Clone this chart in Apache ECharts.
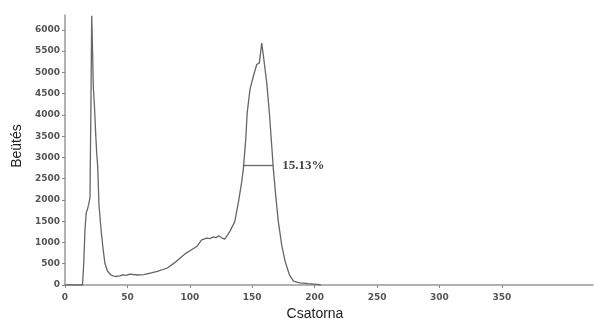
<!DOCTYPE html>
<html><head><meta charset="utf-8">
<script src="https://cdn.jsdelivr.net/npm/echarts@6/dist/echarts.min.js"></script>
<style>html,body{margin:0;padding:0;background:#fff}#c{width:595px;height:326px}</style>
</head><body><div id="c"></div>
<script>
const channels = [0,14,15,16,17,18,19,20,20.7,21.4,22,22.7,23.6,24.6,25.4,26.2,27.2,28.3,29.4,30.7,32,34,37,40,44,46,49,52,58,63,70,74,82,89,97,105.5,109.5,113.5,116,119,121,123,125.5,128,132,136,139,141.6,142.9,144.8,146,148.2,150.9,153.6,155.7,157.6,159,161.6,163.7,165.6,166.9,168.8,170.9,173.6,176.3,179.8,183,188,195,202,205];
const counts   = [0,0,500,1300,1700,1780,1900,2050,4000,6330,5600,4650,4200,3550,3100,2780,1900,1500,1150,800,510,330,230,200,215,240,225,255,235,245,290,320,400,550,750,905,1060,1100,1090,1130,1110,1160,1110,1080,1255,1490,1960,2430,2730,3430,4060,4600,4910,5185,5225,5690,5380,4760,4060,3280,2730,2110,1490,940,560,240,90,50,30,15,0];
const xTicks = [0,50,100,150,200,250,300,350];
const yTicks = [0,500,1000,1500,2000,2500,3000,3500,4000,4500,5000,5500,6000];
const fwhm = {from:142.4, to:166.9, level:2810, label:'15.13%'};

const pts = channels.map((c,i)=>[c,counts[i]]);
const chart = echarts.init(document.getElementById('c'));
const lbl = {color:'#555', fontSize:9, fontFamily:'DejaVu Sans', fontWeight:'bold', formatter:v=>String(v)};
chart.setOption({
  animation:false,
  grid:{left:65,right:2,top:15,bottom:39},
  xAxis:{type:'value',min:0,max:423,
    name:'Csatorna',nameLocation:'middle',nameGap:22,
    nameTextStyle:{fontSize:14,color:'#222',fontFamily:'Liberation Sans',padding:[0,28,0,0]},
    axisLine:{lineStyle:{color:'#999',width:1.5}},
    axisTick:{customValues:xTicks,length:3,lineStyle:{color:'#888'}},
    axisLabel:Object.assign({customValues:xTicks,margin:8},lbl),
    splitLine:{show:false}},
  yAxis:{type:'value',min:0,max:6350,
    name:'Beütés',nameLocation:'middle',nameGap:41,
    nameTextStyle:{fontSize:14,color:'#222',fontFamily:'Liberation Sans',padding:[0,0,0,8]},
    axisLine:{show:true,lineStyle:{color:'#999',width:1.5}},
    axisTick:{show:true,customValues:yTicks,length:3,lineStyle:{color:'#888'}},
    axisLabel:Object.assign({customValues:yTicks,margin:5},lbl),
    splitLine:{show:false}},
  series:[{type:'line',data:pts,showSymbol:false,symbol:'none',
    lineStyle:{color:'#666',width:1.3},
    markLine:{silent:true,symbol:'none',
      lineStyle:{color:'#666',width:1.3,type:'solid'},
      label:{show:true,position:'end',distance:9,formatter:fwhm.label,
        fontFamily:'Liberation Serif',fontWeight:'bold',fontSize:13,color:'#444'},
      data:[[{coord:[fwhm.from,fwhm.level]},{coord:[fwhm.to,fwhm.level]}]]}
  }]
});
</script></body></html>
